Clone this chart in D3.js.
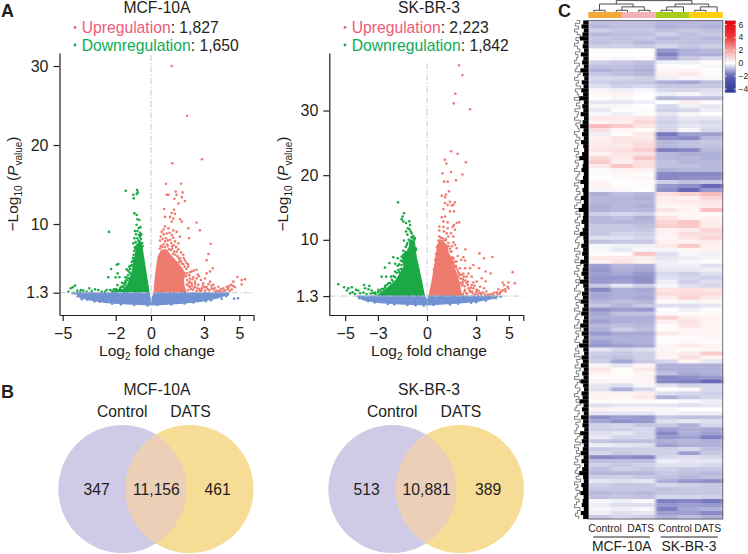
<!DOCTYPE html>
<html>
<head>
<meta charset="utf-8">
<script src="https://cdn.jsdelivr.net/npm/d3@7"></script>
<style>
    html, body { margin: 0; padding: 0; background: #fff; }
    svg { display: block; font-family: "Liberation Sans", Arial, sans-serif; fill: #231f20; }
    .axis text { font-size: 16px; fill: #231f20; font-family: "Liberation Sans", Arial, sans-serif; }
    .axis path, .axis line { stroke: #231f20; stroke-width: 1.2; }
</style>
</head>
<body>
<div id="vis-container"></div>
<script>
"use strict";

// Panel A, counts and axis ticks
const volcanoTitles = ["MCF-10A", "SK-BR-3"];
const upCounts = ["1,827", "2,223"];
const downCounts = ["1,650", "1,842"];
const yTicks = [[1.3, 10, 20, 30], [1.3, 10, 20, 30]];
const xTicks = [[-5, -2, 0, 3, 5, 5.8], [-5, -3, 0, 3, 5, 5.88]];

// Panel A, MCF-10A: [log2 fold change, -log10 p]
const mcfUpCloud = [[.17,1.3],[.23,2.9],[.32,4.6],[.41,5.9],[.6,6.7],[.89,6.7],[1.08,6.1],[1.45,5.2],[1.74,4.4],[1.92,3.75],[1.83,2.9],[1.87,2.05],[2.02,1.3]];
const mcfUpPoints = [[1.17,30],[2.04,23.7],[1.2,17.7],[2.88,18.2],[.85,15.1],[1.7,15.1],[1.4,14.1],[1.79,14],[1.45,13.7],[1.32,13.2],[1.74,13.4],[1.92,12.9],[1.55,12.6],[.98,13.7],[.89,13.7],
    [.74,11.9],[1.3,11.8],[1.17,11.4],[1.36,11.3],[.79,10.9],[1.08,10.9],[1.26,10.7],[1.64,10.6],[1.74,10.3],[1.17,10.3],[2.58,10.2],[.79,9.7],[.7,9.3],[.98,9.45],[1.26,9.2],[1.45,9],[.6,9],[.89,8.8],[1.17,8.6],[2.11,9.45],[2.77,9.2],[1.64,8.4],[2.15,8.2],[.51,7.9],[.79,7.8],[1.08,8],[1.36,7.8],[1.55,7.55],[3.38,7.5],[3.25,6.2],[3.15,5.4],[1.83,6.1],[1.64,5.65],[1.45,6.5],[1.92,5.4],[3.5,4.4],[3.34,4],[3.15,3.75],[2.58,4.2],[2.43,4.1],[2.3,4],[2.17,3.5],
    [4.89,3.3],[5.32,3],[5.13,2.9],[5.13,2.35],[4.66,2.7],[4.43,2.15],[4.75,2],[4.57,1.7],[4.28,2.05],[4,1.45],[3.72,1.55],[3.43,1.85],[3.06,3.1],[2.83,2.9],[2.58,3.1],[2.49,2.7],[2.3,2.5],[2.68,2.3],[2.96,2.5],[3.34,2.7],[3.53,2.3],[3.15,2.05],[2.87,1.85],[2.49,2.05],[2.21,2.05],[2.36,1.65],[2.58,1.55],[2.77,1.45],[3.06,1.55],[2.02,3.75],[2.2,3.1],[2.02,2.3],[2.11,1.65],[3.81,2.05],[4.09,1.85],[4.47,1.55],[4.66,2.15],
    [.55,7.2],[.7,7.4],[.95,7.2],[1.2,6.9],[1.3,6.5],[1.6,5.2],[1.75,5],[1.2,7.2],[1.9,4.6],[2,4.3],[2.1,4.6],[2.2,2.7],[2.4,3.3],[2.7,3.4],[3,2],[3.3,1.6],[3.6,1.9],[4.15,1.5],[4.35,1.75],
    [.5,6.9],[.62,7.1],[.78,7.05],[.9,7.4],[1.02,6.8],[1.12,6.7],[1.25,6.2],[1.38,6.1],[1.5,5.9],[1.58,5.6],[1.68,5.3],[1.82,4.9],[.55,8.4],[.66,8.1],[.85,8.2],[.95,7.9],[1.15,7.6],[1.28,7.3],[1.42,7.1],[1.55,6.8],[1.7,6.4],[1.85,5.7],[2,5.1],[2.1,4.9],[1.98,3.4],[2.05,2.9],[2.12,2.5],[2.15,2.1],[2.25,1.8],[2.32,2.2],[2.42,1.9],[2.35,3],[2.5,2.4],[2.62,1.9],[2.72,1.75],[2.85,1.6],[2.93,2.2],[3.08,2],[3.2,1.75],[3.25,2.4],[3.42,2.2],[3.55,1.7],[3.65,1.45],[3.85,1.5],[3.95,1.75],[4.2,1.6],[4.38,1.9],[4.55,2.3],[2.65,3.6],[2.2,3.9],[1.05,8.9],[1.25,8.3],[.72,8.7]];
const mcfDownCloud = [[-.11,1.3],[-.25,3.3],[-.4,5.45],[-.53,7.35],[-.7,7.65],[-.85,6.7],[-.94,5.45],[-1.09,3.75],[-1.28,2.5],[-1.53,1.73],[-2.13,1.43],[-2.32,1.3]];
const mcfDownPoints = [[-1.43,14.2],[-.79,14.3],[-.75,14],[-1,13.7],[-.81,13.8],[-.98,13.25],[-.94,11.35],[-.81,11.14],[-.77,10.6],[-.66,10.5],[-2.38,9],[-.91,9.1],[-.77,9.1],[-.62,8.9],[-.55,8.7],[-.68,8.6],[-.94,8.2],[-.77,8.2],[-.62,8.4],[-1,7.55],[-.87,7.7],[-.72,7.9],[-.57,8.1],[-.91,7.05],
    [-1.85,4.94],[-1.94,4.85],[-2.26,4.3],[-2.42,3.25],[-1.89,3.75],[-1.79,3.25],[-2,3.25],[-1.38,4.26],[-1.23,4.6],[-1.3,4.1],[-1.09,4.8],[-1,5.36],[-1.45,3.25],[-1.64,2.57],[-1.9,2.28],[-2.09,1.73],[-1.42,2.57],[-1.57,1.98],[-1.15,3.67],[-1.23,3.12],[-1.34,2.9],[-1.49,2.28],[-1.72,1.98],
    [-4.68,1.43],[-4.55,1.86],[-4.43,1.98],[-4.3,2.2],[-4.36,1.3],[-4.17,1.56],[-3.96,1.65],[-3.83,1.56],[-3.49,1.86],[-3.64,1.43],[-3.17,1.73],[-2.98,1.65],[-2.79,1.43],[-2.6,1.43],[-2.51,1.65],[-3.36,1.52],[-4.02,1.39],[-2.32,1.65],[-1.98,1.77],[-1.79,1.65],
    [-.6,7.6],[-.65,7.8],[-.75,7.4],[-.82,7.2],[-.95,6.6],[-.98,6.1],[-.88,6.9],[-1.02,5.7],[-1.08,5.2],[-1.12,4.7],[-1.18,4.3],[-1.22,3.9],[-1.3,3.5],[-1.38,3.2],[-1.45,2.8],[-1.55,2.5],[-1.62,2.1],[-1.75,1.75],[-1.88,1.6],[-2,1.5],[-2.2,1.55],[-.48,7.2],[-.5,7.6],[-.58,8.6],[-.85,8.7],[-.7,9.5],[-.6,9.6],[-.82,9.9]];
const mcfFlatCloud = [[-4.25,1.3],[-.11,1.3],[0,.04],[.17,1.3],[4.43,1.3],[4.09,.9],[3.72,.6],[2.77,.2],[1.64,-.04],[.7,-.17],[0,-.25],[-.43,-.2],[-1.38,-.13],[-2.5,.05],[-3.45,.38],[-4.02,.68]];
const mcfFlatPoints = [[4.7,.55],[4.92,.6],[-3.92,.47],[-4.3,1.2],[-3.6,.42],[-3.2,.2],[-2.9,.16],[-2.2,-.08],[-1.7,-.2],[-.95,-.25],[-.2,-.32],[.35,-.25],[1.15,-.18],[1.9,-.06],[2.4,.07],[3.1,.22],[3.4,.35],[4,.55],[4.25,.85],[4.35,1.05],[-4.15,.85],[-4.45,1.25]];

// Panel A, SK-BR-3
const skUpCloud = [[.12,1.3],[.29,3.3],[.49,6.4],[.65,9.2],[.79,10],[1.2,9.2],[1.3,7.9],[1.61,6.65],[1.71,5.35],[1.91,3.8],[2.12,1.3]];
const skUpPoints = [[1.95,37],[2.16,35.5],[1.73,32.6],[1.63,31.1],[2.63,30.2],[1.47,23.7],[1.87,23.3],[1.08,22.4],[1.18,21.8],[2.37,22],[.94,20.3],[1.47,20.5],[2.16,20.1],
    [1.04,19],[1.26,19],[1.77,19.2],[1.34,17.5],[1.16,17],[.9,16.8],[1.1,16.6],[1.1,15.7],[1.4,15.9],[1.71,15.8],[1.26,15.4],[1.51,15.3],[1.61,15.4],[1,14.75],[1.4,14.4],[1.65,14.4],[.9,13.5],[1.1,13.6],[1,12.85],[1.26,12.7],[1.81,12.6],[1.96,12.7],[1.65,12.3],[.75,12.05],[1,12],[1.26,11.8],[1.57,12],[1.71,11.55],[.75,11.45],[1.04,11.3],[1.2,11],[1.47,11],[.75,10.5],[.96,10.25],[1.3,10.5],[1.61,10.5],[.79,9.75],[1.14,9.9],[1.3,9.5],[1.61,9.6],[1.71,9.2],[1.81,8.7],[1.51,9],
    [2.34,8.55],[3.2,7.9],[3.48,7.15],[3.99,7.35],[2.22,7.3],[1.87,7.5],[2.08,6.9],[2.32,6.8],[1.81,6.65],[2.83,6.1],[3.18,5.6],[3.58,5.1],[3.89,4.8],[5.23,5],[2.63,5.6],[2.32,5.6],[2.02,5.6],[2.53,4.8],[2.22,4.8],[2.12,4.6],[1.91,4.3],[2.73,4.3],[2.42,4.3],[3.34,4.05],[3.58,3.55],[3.03,3.55],[2.73,3],[2.83,3.4],[2.42,3.3],[2.22,3.55],[2.12,2.9],[4.62,3.4],[4.97,3.4],[5.36,3.3],[4.91,2.75],[4.77,2.35],[4.36,2.35],[4.56,2.1],[4.26,1.9],[4.05,1.55],[3.81,1.55],[3.24,2.75],[3.48,2.5],[3.03,2.25],[2.83,2.5],[2.53,2.5],[2.63,1.95],[2.32,2.25],[3.24,1.8],[3.54,1.55],[2.93,1.55],[4.97,2.5],[4.7,3],[4.46,1.9],
    [1.45,8.2],[1.55,7.3],[1.75,6],[1.9,5],[2.05,4],[2.2,3.9],[2.1,3.4],[2.3,2.8],[2.5,3.5],[2.75,2],[3.1,1.6],[2.45,1.7],
    [.6,8.9],[.7,9.9],[.85,10.3],[1,9.9],[1.15,10.1],[1.3,9],[1.4,8.6],[1.5,8.2],[1.35,7.4],[1.62,7.1],[1.7,6.6],[1.78,5.8],[1.85,5.4],[1.95,4.8],[2,3.3],[2.18,3.1],[2.28,2],[2.2,1.6],[2.4,1.7],[2.5,3],[2.6,2.2],[2.68,2.6],[2.78,1.7],[2.9,2.9],[3,1.9],[3.15,2.1],[3.3,1.6],[3.42,1.85],[3.62,2],[3.7,1.5],[3.95,1.6],[4.12,1.85],[4.3,1.6],[4.45,1.65],[4.65,2.2],[4.8,2],[.55,7.8],[.5,6.9],[.42,5.4],[1.55,5.4],[1.65,4.9],[1.8,4.5],[2,4.6],[2.25,4.3],[2.35,3.7]];
const skDownCloud = [[-.16,1.3],[-.33,3.5],[-.53,5.9],[-.67,7.4],[-.77,9.7],[-1,10],[-1.14,8.2],[-1.34,8.2],[-1.49,7.15],[-1.4,5.9],[-1.65,4.8],[-1.95,3.5],[-2.36,2.65],[-2.87,1.7],[-3.08,1.3]];
const skDownPoints = [[-1.77,15.8],[-1.41,14.1],[-1.49,13.6],[-1.55,13.2],[-1.45,12.85],[-1.28,12.6],[-1.08,12.85],[-1.04,12.3],[-1.18,11.8],[-1.08,11.65],[-1.28,11.3],[-1,11.3],[-.94,11],[-1.2,10.8],[-.88,10.25],[-.77,10],[-1.41,9.9],[-1.04,9.75],[-1.24,9.2],[-.67,8.45],[-.94,8.7],[-1.14,8.45],[-1.45,8.3],
    [-2.06,7.3],[-1.79,7.15],[-2.3,6.4],[-2.57,5.7],[-1.95,6.3],[-1.75,5.35],[-1.95,5.1],[-1.55,6.1],[-1.34,5.9],[-2.77,4.3],[-2.5,4.3],[-2.2,4.3],[-2.06,3.55],[-2.36,3.3],
    [-5.42,3.13],[-5.07,2.66],[-4.81,2.5],[-4.6,2.66],[-4.9,2.15],[-4.54,1.9],[-4.34,2.25],[-4.2,2.15],[-4.09,1.73],[-3.85,3],[-3.52,2.87],[-3.79,2.5],[-3.58,2.35],[-3.38,2.15],[-3.89,1.83],[-3.18,1.83],[-2.97,2.25],[-2.77,2.4],[-2.57,2.66],[-4.4,1.63],[-4.7,1.73],[-3.7,1.6],[-3.45,1.7],
    [-.7,8.7],[-.75,10.3],[-.85,10.6],[-.95,10.4],[-1.12,10],[-1.2,9.5],[-1.3,8.9],[-1.45,7.7],[-1.55,7.4],[-1.6,6.8],[-1.7,6.2],[-1.8,6],[-1.5,6.6],[-1.85,4.9],[-1.95,4.2],[-2.05,4.4],[-2.15,3.8],[-2.25,3.3],[-2.45,3],[-2.55,2.9],[-2.65,2.4],[-2.85,2.1],[-3,1.9],[-3.15,1.6],[-3.3,1.75],[-1.6,5.5],[-1.7,5]];
const skFlatCloud = [[-4.3,1.3],[-.16,1.3],[0,.54],[.12,1.3],[4.36,1.3],[4.05,.95],[3.24,.54],[2.22,.28],[1,.08],[0,-.08],[-.43,-.03],[-1.65,.08],[-2.87,.28],[-3.89,.7]];
const skFlatPoints = [[-4.15,.95],[-3.6,.5],[-3.2,.3],[-2.4,.08],[-2,.02],[-1.2,-.08],[-.7,-.12],[-.2,-.2],[.4,-.08],[1.4,-.02],[1.9,.1],[2.7,.25],[3,.35],[3.6,.58],[4.2,.95],[4.5,1.2]];

const volcanoUpClouds = [mcfUpCloud, skUpCloud];
const volcanoUpPoints = [mcfUpPoints, skUpPoints];
const volcanoDownClouds = [mcfDownCloud, skDownCloud];
const volcanoDownPoints = [mcfDownPoints, skDownPoints];
const volcanoFlatClouds = [mcfFlatCloud, skFlatCloud];
const volcanoFlatPoints = [mcfFlatPoints, skFlatPoints];

// Panel B
const vennTitles = ["MCF-10A", "SK-BR-3"];
const vennSetNames = ["Control", "DATS"];
const vennOnlyControl = ["347", "513"];
const vennShared = ["11,156", "10,881"];
const vennOnlyDats = ["461", "389"];

// Panel C, one row per line: MCF-10A control/DATS samples, then SK-BR-3
const heatColumns = ["M1", "M2", "M3", "S1", "S2", "S3"];
const heatRows = [
    [-.8,-.8,-.8,-.9,-.9,-.9],[-.9,-.8,-.8,-1,-.9,-1],[-.6,-.7,-.7,-.8,-.7,-.8],[-.9,-.8,-.8,-.6,-.8,-.7],[-.7,-.8,-.7,-.9,-.8,-.9],
    [-.8,-.7,-.9,-.7,-.8,-.8],[-.6,-.6,-.7,-.5,-.7,-.6],[.1,.1,0,-1.3,-1,-.9],[0,.05,0,-1.6,-1,-1],[.1,-.1,.1,-1.2,-.7,-.5],
    [-.6,-.7,-.8,-.2,-.2,.1],[-.8,-.8,-.9,.1,0,-.1],[-1,-.9,-1,.2,.2,.1],[-.7,-.8,-.9,.3,.5,.1],[-.5,-.5,-.6,-.2,-.1,-.1],
    [-.6,-.7,-.7,-1,-1.1,-.8],[-.4,-.6,-.5,-.7,-.7,-.7],[-.1,-.2,-.1,-.5,-.5,-.4],[.15,.3,0,-.2,-.1,-.3],[0,-.1,0,-.9,-.8,-.8],
    [-.3,-.3,-.2,0,.4,.1],[-.1,-.1,0,-.5,-.2,-.3],[-.3,.1,.1,-.6,-.5,-.2],[-.1,-.2,.1,-.3,-.1,.1],[.5,.5,.6,-.5,-.3,-.3],
    [.3,.4,.9,-.6,-.4,-.5],[1.6,1.2,.6,-.5,-.3,-.4],[.7,.2,.1,-.5,-.1,-.5],[-.2,.1,.5,-1.7,-1.2,-1.2],[.3,.6,.5,-1.4,-1.5,-.9],
    [.4,.6,.7,-.9,-.8,-.7],[.5,.5,.8,-.9,-.8,-.8],[.6,.7,1.1,-1.6,-1.5,-.9],[.3,.6,.7,-.9,-1,-1],[.9,.5,1.3,-.9,-.9,-1],
    [1.2,.4,.7,-.8,-.9,-.9],[.5,1.3,.7,-.8,-.8,-.9],[.1,.3,.3,-1,-.9,-.9],[-.05,.15,.1,-1.5,-1.5,-1.5],[0,.1,.2,-1.5,-1.4,-1.4],
    [.2,0,.1,-.6,-.8,-.7],[.3,.1,-.05,-1.3,-1.4,-1.9],[-.1,-.1,.05,-1.4,-1.9,-1.3],[-1,-.8,-.9,.7,1,1.5],[-.9,-.9,-1,.4,.3,.9],
    [-.9,-.9,-.9,.4,.5,.6],[-1,-.9,-1,.2,.3,.5],[-1,-.9,-.9,.6,.3,1.5],[-.6,-.5,-.6,.2,.2,.1],[-.9,-.8,-1,.6,.2,.3],
    [-.9,-.9,-.9,.9,1.3,.4],[-.7,-.7,-.8,1.1,1.2,.4],[-.7,-.7,-.7,.3,.4,.9],[-.7,-.5,-.6,.3,.8,.7],[-.4,-.4,-.5,.2,.6,.9],
    [-.8,-.7,-.7,.3,.3,.4],[-.1,-.2,-.2,.5,1.3,.3],[-.1,-.3,-.1,-.1,.2,.3],[.1,.1,1.3,-.4,-.1,-.2],[.5,.5,.4,-.3,-.2,-.1],
    [.3,.6,.3,-.2,-.1,.1],[-1.2,-.9,-1,-.2,-.2,-.4],[-1.3,-1,-1.1,-.3,-.3,-.2],[-1.2,-1.1,-1.3,-.5,-.6,-.4],[-1.3,-1.3,-1.4,-.4,-.5,-.6],
    [-1.3,-1.2,-1.4,-.2,-.6,-.4],[-.7,-.3,-.6,-.1,-.4,-.5],[-1.5,-1,-1.1,.6,.7,.6],[-1.1,-1,-1,.8,.8,.8],[-1.1,-1,-1.1,.4,1,.5],
    [-.9,-.8,-.9,.1,-.1,.2],[-.7,-.9,-.7,-.4,-.4,-.3],[-1.4,-1.2,-1.3,0,-.2,.1],[-1.1,-.8,-.8,.1,.1,.1],[-1,-1,-1,1,.4,.3],
    [-1.2,-1,-1,.4,.6,.2],[-.9,-.8,-.9,.1,.6,.3],[-1,-.6,-.8,.1,.2,.2],[-1.3,-1.1,-1.1,.5,.2,.3],[-1,-1,-1,.1,.1,.2],
    [-1.2,-1,-1,0,.1,.1],[-1.3,-1.2,-1.1,.2,.5,.3],[-.3,-.5,-.4,.2,.1,.2],[-.6,-.7,-.6,.3,.5,1.2],[-.7,-.8,-.6,.2,.7,.3],
    [-.6,-1.1,-.7,-.5,.3,-.3],[-.1,-.3,.2,-1,-1,-1],[.6,.1,.5,-1,-1,-1],[.3,.1,.2,-.8,-1.1,-1],[.1,.1,.3,-1.5,-1.4,-1.3],
    [.3,.2,.2,-1.5,-1.6,-1.9],[-.3,-.4,-.1,-.4,-.6,-.5],[-.4,-1,-.5,.05,.2,-.5],[.3,.3,.4,-.4,-.5,-.6],[.3,.2,.5,-1,-.7,-.5],
    [.1,.1,.1,0,-.1,-.2],[-.4,-.3,-.3,-.3,-.4,-.3],[.3,.2,.2,-.1,0,.05],[-.3,-.3,-.3,-.1,-.2,-.2],[-1.4,-1.2,-1.3,-.7,-.8,-.8],
    [-1.1,-1.4,-1.3,-.4,-.3,-.4],[-.6,-.5,-.7,-.7,-1,-.5],[-.6,-.6,-.5,-1.2,-1,-1.1],[-.4,-.3,-.5,-1.5,-1,-1.2],[-.3,-.5,-.5,-1.3,-1.2,-1.6],
    [-.7,-.8,-.8,-1,-.9,-1],[-.2,-.3,-.4,-1.2,-1,-1],[-.7,-.6,-.6,-.6,-.5,-.8],[-.5,-.7,-.6,-.6,-1.2,-.7],[-1.5,-1.4,-1.5,-.5,-.4,-.5],
    [-.8,-.8,-.8,-.2,-.3,-.3],[-.6,-.7,-.6,-.4,-.4,-.5],[-.8,-.6,-.7,-.6,-.7,-.7],[-.9,-.9,-.9,-.7,-.8,-.9],[-.6,-.6,-.7,-.8,-.9,-.8],
    [-.3,-.4,-.3,-1,-1.3,-1.4],[-.6,-.7,-.7,-.5,-.6,-.7],[-.7,-.7,-.7,-.8,-.7,-.7],[-.9,-.8,-.9,-.7,-.7,-.7],[-.8,-.7,-.8,-.5,-.5,-.6],
    [-.1,-.2,-.1,-1.6,-1.5,-1.7],[-.2,-.4,-.4,-1.3,-1.2,-1.3],[-.1,-.2,-.1,-1.6,-1.1,-1],[-.2,-.4,-.3,-1.2,-1.2,-1.5],[-.7,-.5,-.6,-1,-.8,-1]
];

// Height of the first gene merges and of the outer branches in the row tree
const rowMergeHeights = [.45,.6,.4,.52,.75,.42,.5,.38,.66,.44,.55,.4,.7,.48,.36,.58,.42,.62,.46,.8,.4,.53,.44,.68,.38,.5,.72,.42,.56,.4,
    .64,.45,.37,.55,.78,.43,.5,.6,.4,.47,.7,.38,.52,.44,.66,.4,.57,.82,.42,.48,.6,.36,.5,.74,.44,.4,.62,.46,.54,.38,
    .7,.42,.5,.6,.4,.76,.45,.36,.56,.48,.68,.4,.52,.62,.38,.46,.72,.42,.58,.4,.5,.8,.44,.37,.6,.48,.66,.4,.54,.42,
    .7,.46,.38,.6,.5,.78,.42,.56,.4,.64,.46,.52,.36,.72,.44,.58,.4,.5,.68,.42,.6,.38,.54,.8,.46,.4,.62,.48,.7,.42,.5,.58,.4,.66,.46];
const rowBranchHeights = [.85,.62,.95,.7,1,.8,.58,.9,.72,1,.78,.6,.92,.74,.85,1,.65,.82,.95,.6,.76,1,.72,.88,.56,.94,.8,.7,1,.62,
    .86,.6,.97,.72,.8,1,.58,.9,.76,.66,1,.84,.6,.92,.74,.78,1,.7,.88,.58,.94,.72,.82,1,.62,.76,.9,.66,1,.74,.86,.6,.8,.95,.56,
    .83,1,.68,.9,.6,.78,.96,.64,.87,.7,1,.58,.81,.93,.66,.75,1,.6,.89,.72,.97,.56,.84,.68,1,.77,.62,.91,.7,.86,1,.58,.79,.95,.64,
    .88,.72,1,.6,.82,.94,.66,.76,1,.56,.9,.7,.85,.98,.62,.78,.92,.68,1,.6,.84,.74,.96,.58,.87,.7,1,.64,.8,.93,.6,.76,1,.68,.89,.56,
    .83,.97,.66,.75,1,.6,.9,.72,.85,.98,.62,.79,.94,.58,1,.7,.86,.64,.92,.76,1,.6,.82,.95,.68,.88,.56,1,.74,.9,.62,.8,.96,.66,.85,1,.6,.78,.93,.7];

// Column tree above the heatmap, leaf order matches the 12 samples
const sampleTree = { h: 1, children: [
    { h: .7, children: [
        { h: .15, children: [{ h: 0 }, { h: 0 }] },
        { h: .45, children: [
            { h: .15, children: [{ h: 0 }, { h: 0 }] },
            { h: .15, children: [{ h: 0 }, { h: 0 }] }] }] },
    { h: .7, children: [
        { h: .45, children: [
            { h: .15, children: [{ h: 0 }, { h: 0 }] },
            { h: 0 }] },
        { h: .45, children: [
            { h: .15, children: [{ h: 0 }, { h: 0 }] },
            { h: 0 }] }] }] };

const groupNames = ["MCF-10A control", "MCF-10A DATS", "SK-BR-3 control", "SK-BR-3 DATS"];
const groupColors = ["#f5a83a", "#f4b3b6", "#a9cc1c", "#ffce0c"];
const groupLabels = ["Control", "DATS", "Control", "DATS"];
const cellLineLabels = ["MCF-10A", "SK-BR-3"];
const legendTicks = [6, 4, 2, 0, -2, -4];

function mainIndex()
{
    const svg = d3.select("#vis-container")
        .append("svg")
        .attr("width", 748)
        .attr("height", 554);

    const INK = "#231f20";
    const UP = "#ef7a6e";
    const DOWN = "#1aa945";
    const FLAT = "#7092d2";

    // Layout of the two volcano plots
    const volcanoLayout = [
        { left: 59.5, right: 253.5, xDomain: [-5.18, 5.8], yDomain: [-1.52, 31.65], title: 157, bullet: 75, yLabel: 18, lineTop: 55 },
        { left: 329.3, right: 523.3, xDomain: [-5.97, 5.88], yDomain: [-1.63, 38.9], title: 429, bullet: 345, yLabel: 288, lineTop: 63 }
    ];

    volcanoLayout.forEach((layout, i) => drawVolcano(layout, i));
    drawVenn(122.3, 189.5, 157, 0);
    drawVenn(392.3, 459.9, 429, 1);
    drawHeatmap();

    // Panel letters
    svg.selectAll(".panel-letter")
        .data([["A", 1, 17], ["B", 1, 398], ["C", 558, 17]])
        .enter()
        .append("text")
        .attr("class", "panel-letter")
        .attr("x", d => d[1])
        .attr("y", d => d[2])
        .style("font-size", "18px")
        .style("font-weight", "bold")
        .text(d => d[0]);

    function drawVolcano(layout, i)
    {
        const x = d3.scaleLinear().domain(layout.xDomain).range([layout.left, layout.right]);
        const y = d3.scaleLinear().domain(layout.yDomain).range([315, 53]);
        const g = svg.append("g");

        const cloudPath = d3.line().x(d => x(d[0])).y(d => y(d[1])).curve(d3.curveLinearClosed);

        [[volcanoUpClouds, volcanoUpPoints, UP], [volcanoDownClouds, volcanoDownPoints, DOWN], [volcanoFlatClouds, volcanoFlatPoints, FLAT]]
            .forEach(([clouds, points, color]) => {
                g.append("path")
                    .attr("d", cloudPath(clouds[i]))
                    .attr("fill", color)
                    .attr("stroke", color)
                    .attr("stroke-width", 1.2)
                    .attr("stroke-linejoin", "round");

                g.selectAll(null)
                    .data(points[i])
                    .enter()
                    .append("circle")
                    .attr("cx", d => x(d[0]))
                    .attr("cy", d => y(d[1]))
                    .attr("r", 1.3)
                    .attr("fill", color);
            });

        // Threshold lines
        g.append("line")
            .attr("x1", layout.left).attr("x2", layout.right)
            .attr("y1", y(1.3)).attr("y2", y(1.3))
            .attr("stroke", "#c4c4c4").attr("stroke-width", 0.9)
            .attr("stroke-dasharray", "6 2 1.5 2");
        g.append("line")
            .attr("x1", x(0)).attr("x2", x(0))
            .attr("y1", layout.lineTop).attr("y2", 315)
            .attr("stroke", "#c4c4c4").attr("stroke-width", 0.9)
            .attr("stroke-dasharray", "6 2 1.5 2");

        // Axes
        const xAxis = d3.axisBottom(x)
            .tickValues(xTicks[i])
            .tickSize(6).tickSizeOuter(0).tickPadding(7)
            .tickFormat(d => (Math.abs(d) > 5 ? "" : String(d).replace("-", "\u2212")));
        const yAxis = d3.axisLeft(y)
            .tickValues(yTicks[i])
            .tickSize(6).tickSizeOuter(0).tickPadding(5)
            .tickFormat(d => String(d));

        g.append("g").attr("class", "axis").attr("transform", "translate(0,315)").call(xAxis);
        g.append("g").attr("class", "axis").attr("transform", `translate(${layout.left},0)`).call(yAxis);

        // Titles and counts
        g.append("text").attr("x", layout.title).attr("y", 12.7)
            .attr("text-anchor", "middle").style("font-size", "15.7px").text(volcanoTitles[i]);

        [["Upregulation", upCounts[i], "#ee5a77", 33], ["Downregulation", downCounts[i], "#0dab55", 50.5]]
            .forEach(([name, count, color, baseline]) => {
                g.append("circle").attr("cx", layout.bullet).attr("cy", baseline - 5.6).attr("r", 1.4).attr("fill", color);
                const label = g.append("text").attr("x", layout.bullet + 6.7).attr("y", baseline).style("font-size", "15.7px");
                label.append("tspan").attr("fill", color).text(name);
                label.append("tspan").attr("fill", INK).text(": " + count);
            });

        // Axis titles
        const xLabel = g.append("text").attr("x", layout.title).attr("y", 356)
            .attr("text-anchor", "middle").style("font-size", "15.5px");
        xLabel.append("tspan").text("Log");
        xLabel.append("tspan").attr("dy", 3.5).style("font-size", "10px").text("2");
        xLabel.append("tspan").attr("dy", -3.5).text(" fold change");

        const yLabel = g.append("text")
            .attr("transform", `translate(${layout.yLabel},184) rotate(-90)`)
            .attr("text-anchor", "middle").style("font-size", "15.5px");
        yLabel.append("tspan").text("\u2212Log");
        yLabel.append("tspan").attr("dy", 3.5).style("font-size", "10px").text("10");
        yLabel.append("tspan").attr("dy", -3.5).text(" (");
        yLabel.append("tspan").style("font-style", "italic").text("P");
        yLabel.append("tspan").attr("dy", 3.5).style("font-size", "10px").text("value");
        yLabel.append("tspan").attr("dy", -3.5).text(")");
    }

    function drawVenn(cxLeft, cxRight, titleX, i)
    {
        const cy = 489;
        const r = 64;
        const g = svg.append("g");

        g.append("clipPath").attr("id", "venn-clip-" + i)
            .append("circle").attr("cx", cxRight).attr("cy", cy).attr("r", r);

        g.append("circle").attr("cx", cxLeft).attr("cy", cy).attr("r", r).attr("fill", "#cfcae6");
        g.append("circle").attr("cx", cxRight).attr("cy", cy).attr("r", r).attr("fill", "#f7dc95");
        g.append("circle").attr("cx", cxLeft).attr("cy", cy).attr("r", r).attr("fill", "#ebcfb6")
            .attr("clip-path", `url(#venn-clip-${i})`);

        const labels = [
            [vennTitles[i], titleX, 395],
            [vennSetNames[0], cxLeft, 416.5],
            [vennSetNames[1], cxRight + 1, 416.5],
            [vennOnlyControl[i], cxLeft - 25.7, 495],
            [vennShared[i], (cxLeft + cxRight) / 2 + 0.5, 495],
            [vennOnlyDats[i], cxRight + 28.2, 495]
        ];
        g.selectAll("text")
            .data(labels)
            .enter()
            .append("text")
            .attr("x", d => d[1])
            .attr("y", d => d[2])
            .attr("text-anchor", "middle")
            .style("font-size", "15.7px")
            .text(d => d[0]);
    }

    function drawHeatmap()
    {
        const left = 588.3;
        const right = 722.7;
        const top = 20.5;
        const bottom = 519;

        const col = d3.scaleBand().domain(heatColumns).range([left, right]);
        const row = d3.scaleBand().domain(d3.range(heatRows.length)).range([top, bottom]);
        const color = d3.scaleLinear()
            .domain([-4.5, -2, 0, 2, 4, 6.6])
            .range(["#2b3a98", "#5f60b2", "#ffffff", "#f7a5a5", "#ee3b3b", "#e60012"]);

        // The reference cells are soft, so blur them a little
        const defs = svg.append("defs");
        defs.append("filter")
            .attr("id", "soft-cells")
            .attr("x", 0).attr("y", 0).attr("width", 1).attr("height", 1)
            .append("feGaussianBlur")
            .attr("stdDeviation", "1.4 0.5");

        const cells = svg.append("g").attr("filter", "url(#soft-cells)");
        const rows = cells.selectAll("g")
            .data(heatRows)
            .enter()
            .append("g")
            .attr("transform", (d, i) => `translate(0,${row(i)})`);

        rows.selectAll("rect")
            .data(d => d)
            .enter()
            .append("rect")
            .attr("x", (d, i) => col(heatColumns[i]))
            .attr("width", col.bandwidth() + 0.4)
            .attr("height", row.bandwidth() + 0.4)
            .attr("fill", d => color(d));

        svg.append("rect")
            .attr("x", left).attr("y", top)
            .attr("width", right - left).attr("height", bottom - top)
            .attr("fill", "none").attr("stroke", "#57555a").attr("stroke-width", 0.8);

        // Group strip on top
        const group = d3.scaleBand().domain(groupNames).range([left, right]);
        svg.append("g").selectAll("rect")
            .data(groupNames)
            .enter()
            .append("rect")
            .attr("x", d => group(d))
            .attr("y", 12)
            .attr("width", group.bandwidth())
            .attr("height", 6)
            .attr("fill", (d, i) => groupColors[i]);

        // Column tree
        const root = d3.hierarchy(sampleTree);
        const leafX = d3.scaleBand().domain(d3.range(12)).range([left, right]);
        const treeY = d3.scaleLinear().domain([0, 1]).range([12, 0.6]);
        let leafIndex = 0;
        root.eachAfter(n => {
            n.px = n.children
                ? (n.children[0].px + n.children[n.children.length - 1].px) / 2
                : leafX(leafIndex++) + leafX.bandwidth() / 2;
        });
        svg.append("g").selectAll("path")
            .data(root.descendants().filter(n => n.children))
            .enter()
            .append("path")
            .attr("fill", "none")
            .attr("stroke", INK)
            .attr("stroke-width", 0.8)
            .attr("d", n => {
                const a = n.children[0];
                const b = n.children[1];
                return `M${a.px},${treeY(a.data.h)}V${treeY(n.data.h)}H${b.px}V${treeY(b.data.h)}`;
            });

        // Row tree, left of the heatmap
        const treeX = d3.scaleLinear().domain([0, 1]).range([left, 574.5]);
        const mergeX = d3.scaleLinear().domain([0, 1]).range([left, 577]);
        const branchY = d3.scaleLinear().domain([0, rowBranchHeights.length - 1]).range([top, bottom]);
        const rowTree = svg.append("g");

        rowTree.append("path")
            .attr("fill", "none")
            .attr("stroke", "#2a2a2a")
            .attr("stroke-width", 0.6)
            .attr("d", d3.line()
                .x(d => treeX(d))
                .y((d, i) => branchY(i))
                .curve(d3.curveStepAfter)(rowBranchHeights));

        rowTree.selectAll("line.merge")
            .data(rowMergeHeights)
            .enter()
            .append("line")
            .attr("class", "merge")
            .attr("x1", d => mergeX(d))
            .attr("x2", left)
            .attr("y1", (d, i) => row(i) + row.bandwidth() / 2)
            .attr("y2", (d, i) => row(i) + row.bandwidth() / 2)
            .attr("stroke", "#000")
            .attr("stroke-width", 4.1);

        // Colour key
        const keyY = d3.scaleLinear().domain([-4.57, 6.6]).range([92.7, 20.7]);
        const gradient = defs.append("linearGradient")
            .attr("id", "heat-key")
            .attr("x1", 0).attr("y1", 1).attr("x2", 0).attr("y2", 0);
        color.domain().forEach(v => {
            gradient.append("stop")
                .attr("offset", (v + 4.57) / (6.6 + 4.57))
                .attr("stop-color", color(v));
        });
        svg.append("rect")
            .attr("x", 725).attr("y", 20.7)
            .attr("width", 10.7).attr("height", 72)
            .attr("fill", "url(#heat-key)")
            .attr("stroke", "#8f8f9a").attr("stroke-width", 0.4);

        const keyTicks = svg.append("g").selectAll("g")
            .data(legendTicks)
            .enter()
            .append("g")
            .attr("transform", d => `translate(0,${keyY(d)})`);
        keyTicks.append("line").attr("x1", 725).attr("x2", 727).attr("stroke", "#fff").attr("stroke-width", 0.7);
        keyTicks.append("line").attr("x1", 733.7).attr("x2", 735.7).attr("stroke", "#fff").attr("stroke-width", 0.7);
        keyTicks.append("text")
            .attr("x", 738.5)
            .attr("dy", "0.35em")
            .style("font-size", "8.5px")
            .text(d => String(d).replace("-", "\u2212"));

        // Bottom labels
        svg.append("g").selectAll("text")
            .data(groupLabels)
            .enter()
            .append("text")
            .attr("x", (d, i) => [605, 640.7, 675, 707.7][i])
            .attr("y", 532.3)
            .attr("text-anchor", "middle")
            .style("font-size", "10.4px")
            .text(d => d);

        svg.append("g").selectAll("line")
            .data([[593.3, 650], [660.7, 717.7]])
            .enter()
            .append("line")
            .attr("x1", d => d[0])
            .attr("x2", d => d[1])
            .attr("y1", 537)
            .attr("y2", 537)
            .attr("stroke", INK)
            .attr("stroke-width", 1);

        svg.append("g").selectAll("text")
            .data(cellLineLabels)
            .enter()
            .append("text")
            .attr("x", (d, i) => [621.7, 689][i])
            .attr("y", 551)
            .attr("text-anchor", "middle")
            .style("font-size", "13.9px")
            .text(d => d);
    }
}

document.addEventListener("DOMContentLoaded", mainIndex);
</script>
</body>
</html>
